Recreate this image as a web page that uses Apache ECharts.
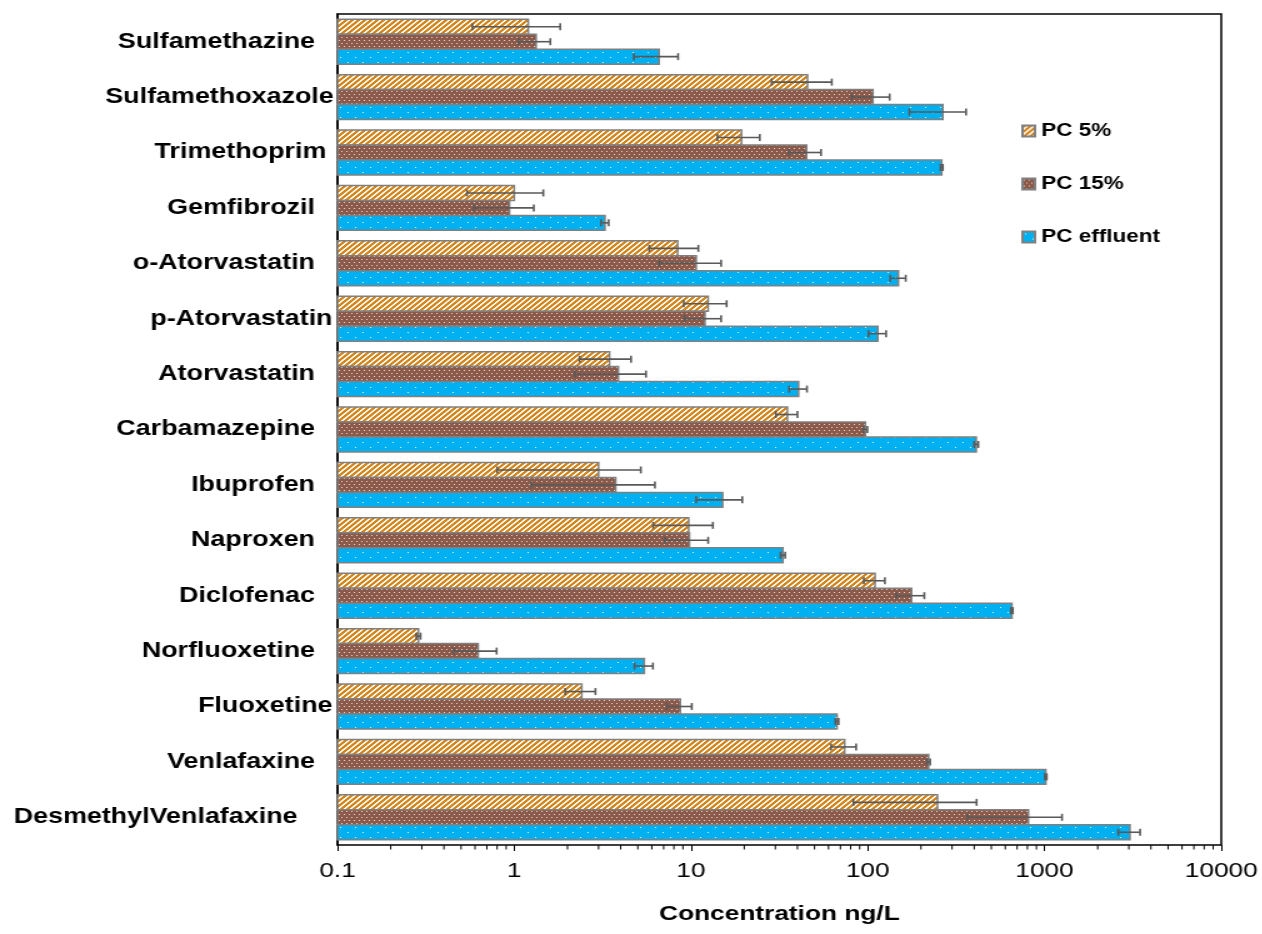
<!DOCTYPE html>
<html>
<head>
<meta charset="utf-8">
<script src="https://cdn.jsdelivr.net/npm/echarts@6/dist/echarts.min.js"></script>
<style>
html, body { margin: 0; padding: 0; background: #fff; overflow: hidden; }
/* the reference picture is stretched sideways, so the chart is drawn narrow and scaled */
#chart {
  width: 1010px;
  height: 934px;
  transform: scaleX(1.25);
  transform-origin: 0 0;
}
</style>
</head>
<body>
<div id="chart"></div>
<script>
const categories = ['Sulfamethazine', 'Sulfamethoxazole', 'Trimethoprim', 'Gemfibrozil', 'o-Atorvastatin',
  'p-Atorvastatin', 'Atorvastatin', 'Carbamazepine', 'Ibuprofen', 'Naproxen', 'Diclofenac',
  'Norfluoxetine', 'Fluoxetine', 'Venlafaxine', 'DesmethylVenlafaxine']
const seriesNames = ['PC 5%', 'PC 15%', 'PC effluent']

const pc5 = [1.2, 45.6, 19.3, 1.0, 8.4, 12.5, 3.46, 35.1, 3.0, 9.7, 110, 0.287, 2.41, 74, 248]
const pc5Sd = [0.62, 17, 5.2, 0.46, 2.6, 3.4, 1.12, 4.9, 2.2, 3.6, 15, 0.008, 0.47, 12, 165]
const pc15 = [1.33, 107, 45.1, 0.94, 10.7, 12.0, 3.88, 97, 3.75, 9.8, 177, 0.625, 8.7, 221, 811]
const pc15Sd = [0.27, 26, 9.3, 0.35, 4.1, 2.8, 1.68, 2.5, 2.5, 2.7, 32, 0.17, 1.4, 4.4, 445]
const effluent = [6.6, 266, 262, 3.26, 149, 114, 40.6, 411, 15.1, 33.1, 654, 5.44, 67, 1017, 3045]
const effluentSd = [1.85, 94, 4, 0.16, 15, 13, 4.7, 11, 4.4, 1, 8, 0.65, 1.4, 13, 430]

const tickLabels = ['0.1', '1', '10', '100', '1000', '10000']
const minorTickValues = [0.2, 0.3, 0.4, 0.5, 0.6, 0.7, 0.8, 0.9,
  2, 3, 4, 5, 6, 7, 8, 9,
  20, 30, 40, 50, 60, 70, 80, 90,
  200, 300, 400, 500, 600, 700, 800, 900,
  2000, 3000, 4000, 5000, 6000, 7000, 8000, 9000]

// how far each label ends from the axis (the source labels are not all aligned)
const labelPad = { 'Sulfamethoxazole': 0, 'Trimethoprim': 6, 'p-Atorvastatin': 1, 'Fluoxetine': 1, 'DesmethylVenlafaxine': 29 }

const font = "'Liberation Sans', Arial, sans-serif"
const xMin = 0.1
const xMax = 10000
const gapRatio = 0.19

function makeTile(w, h, bg, fg, isFg) {
  const c = document.createElement('canvas')
  c.width = w
  c.height = h
  const ctx = c.getContext('2d')
  ctx.fillStyle = bg
  ctx.fillRect(0, 0, w, h)
  ctx.fillStyle = fg
  for (let y = 0; y < h; y++) {
    for (let x = 0; x < w; x++) {
      if (isFg(x, y)) ctx.fillRect(x, y, 1, 1)
    }
  }
  return c
}

const stripeTile = makeTile(5, 5, '#ffffff', '#D4851A', (x, y) => (x + y) % 5 < 3)
const brownDots = [[1, 1], [5, 1], [3, 4], [7, 4]]
const brownTile = makeTile(8, 6, '#8C5A4B', '#E8D3CB', (x, y) => brownDots.some(d => d[0] === x && d[1] === y))
const blueDots = [[2, 2], [8, 7]]
const blueTile = makeTile(12, 10, '#00B0F0', '#E6F7FE', (x, y) => blueDots.some(d => d[0] === x && d[1] === y))
const fills = [stripeTile, brownTile, blueTile].map(t => ({ image: t, repeat: 'repeat' }))

const means = [pc5, pc15, effluent]
const sds = [pc5Sd, pc15Sd, effluentSd]

// top edge and height of bar idx inside its category band
function slot(api, catY, idx) {
  const band = api.size([1, 1])[1]
  const groupW = band * (1 - gapRatio)
  const barW = groupW / 3
  return { y: catY - groupW / 2 + barW * idx, h: barW }
}

function barRender(idx) {
  return function (params, api) {
    const start = api.coord([xMin, api.value(1)])
    const end = api.coord([api.value(0), api.value(1)])
    const s = slot(api, start[1], idx)
    return {
      type: 'rect',
      shape: { x: start[0], y: s.y, width: end[0] - start[0], height: s.h },
      style: { fill: fills[idx], stroke: '#808080', lineWidth: 1.5 }
    }
  }
}

function errorRender(idx) {
  return function (params, api) {
    const lo = api.coord([api.value(0), api.value(2)])
    const hi = api.coord([api.value(1), api.value(2)])
    const s = slot(api, lo[1], idx)
    const y = s.y + s.h / 2
    const st = { stroke: '#595959', lineWidth: 1.6 }
    return {
      type: 'group',
      children: [
        { type: 'line', shape: { x1: lo[0], y1: y, x2: hi[0], y2: y }, style: st },
        { type: 'line', shape: { x1: lo[0], y1: y - 3.5, x2: lo[0], y2: y + 3.5 }, style: st },
        { type: 'line', shape: { x1: hi[0], y1: y - 3.5, x2: hi[0], y2: y + 3.5 }, style: st }
      ]
    }
  }
}

const rich = {}
categories.forEach((c, i) => {
  const pad = labelPad[c] !== undefined ? labelPad[c] : 15
  rich['c' + i] = { fontSize: 21.5, fontWeight: 'bold', fontFamily: font, color: '#000', padding: [0, pad, 0, 0] }
})

const series = []
seriesNames.forEach((name, i) => {
  series.push({
    name: name,
    type: 'custom',
    renderItem: barRender(i),
    encode: { x: 0, y: 1 },
    data: means[i].map((v, k) => [v, k]),
    itemStyle: { color: fills[i], borderColor: '#808080', borderWidth: 1.5 },
    z: 2
  })
})
seriesNames.forEach((name, i) => {
  series.push({
    type: 'custom',
    renderItem: errorRender(i),
    encode: { x: [0, 1], y: 2 },
    data: means[i].map((m, k) => [m - sds[i][k], m + sds[i][k], k]),
    z: 5,
    silent: true
  })
})
series.push({
  type: 'custom',
  silent: true,
  clip: false,
  encode: { x: 0, y: 1 },
  data: minorTickValues.map(v => [v, 0]),
  renderItem: function (params, api) {
    const x = api.coord([api.value(0), 0])[0]
    const yb = params.coordSys.y + params.coordSys.height
    return { type: 'line', shape: { x1: x, y1: yb, x2: x, y2: yb + 4.5 }, style: { stroke: '#000', lineWidth: 1 } }
  },
  z: 6
})

const option = {
  animation: false,
  textStyle: { fontFamily: font },
  grid: {
    left: 270,
    right: 33,
    top: 14,
    bottom: 89,
    show: true,
    borderColor: '#000',
    borderWidth: 1.5
  },
  legend: {
    data: seriesNames,
    orient: 'vertical',
    left: 812,
    top: 117,
    itemWidth: 10,
    itemHeight: 11,
    itemGap: 35,
    itemTextGap: 5,
    icon: 'rect',
    textStyle: { fontSize: 18, fontWeight: 'bold', color: '#000', fontFamily: font }
  },
  xAxis: {
    type: 'log',
    logBase: 10,
    min: xMin,
    max: xMax,
    name: 'Concentration ng/L',
    nameLocation: 'middle',
    nameGap: 59,
    nameTextStyle: { fontSize: 21, fontWeight: 'bold', color: '#000' },
    axisLine: { lineStyle: { color: '#000', width: 1.5 } },
    axisTick: { show: true, length: 6, lineStyle: { color: '#000', width: 1 } },
    axisLabel: {
      fontSize: 21,
      color: '#000',
      margin: 16,
      formatter: (v, i) => tickLabels[i]
    },
    splitLine: { show: false }
  },
  yAxis: {
    type: 'category',
    data: categories,
    inverse: true,
    axisLine: { lineStyle: { color: '#000', width: 1.5 } },
    axisTick: { show: false },
    axisLabel: {
      margin: 3,
      formatter: (v, i) => '{c' + i + '|' + v + '}',
      rich: rich
    },
    splitLine: { show: false }
  },
  series: series
}

const chart = echarts.init(document.getElementById('chart'))
chart.setOption(option)
</script>
</body>
</html>
